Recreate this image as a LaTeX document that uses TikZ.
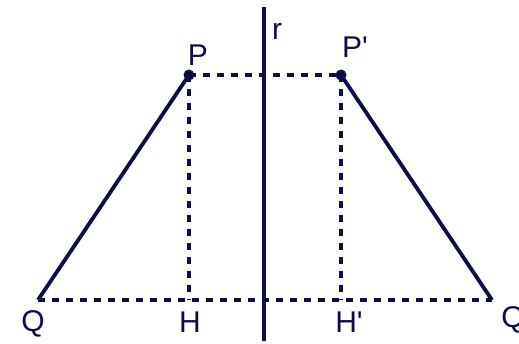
\documentclass[tikz,border=0pt]{standalone}
\usepackage{fontspec}
\setmainfont{Liberation Sans}
\definecolor{ink}{RGB}{12,12,72}
\begin{document}
\begin{tikzpicture}[x=1pt,y=-1pt,line width=3.8pt,
  pt/.style={circle,fill=ink,inner sep=0pt,minimum size=11pt},
  lbl/.style={text=ink,font=\fontsize{30}{33}\selectfont,inner sep=0pt},
  guide/.style={ink,dash pattern=on 7pt off 7pt,line width=3.4pt}]
\useasboundingbox (0,0) rectangle (519,343);
\node[pt] (p) at (189,75) {};
\node[pt] (pp) at (341,75) {};
\coordinate (q) at (38,300);
\coordinate (h) at (189,300);
\coordinate (hh) at (341,300);
\coordinate (qq) at (492,300);
\coordinate (rtop) at (264,7);
\coordinate (rbot) at (264,341);
\node[lbl] (lp) at (198,55) {P};
\node[lbl] (lpp) at (355,47) {P\textquotesingle};
\node[lbl] (lr) at (277,31) {r};
\node[lbl] (lq) at (33,324) {Q};
\node[lbl] (lh) at (190,322) {H};
\node[lbl] (lhh) at (349,322) {H\textquotesingle};
\node[lbl] (lqq) at (516,320) {Q\textquotesingle};
\draw[guide] (q) -- (qq);
\draw[guide] (p.center) -- (pp.center);
\draw[guide] (p.center) -- (h);
\draw[guide] (pp.center) -- (hh);
\draw[ink] (rtop) -- (rbot);
\draw[ink] (q) -- (p.center);
\draw[ink] (pp.center) -- (qq);
\end{tikzpicture}
\end{document}
